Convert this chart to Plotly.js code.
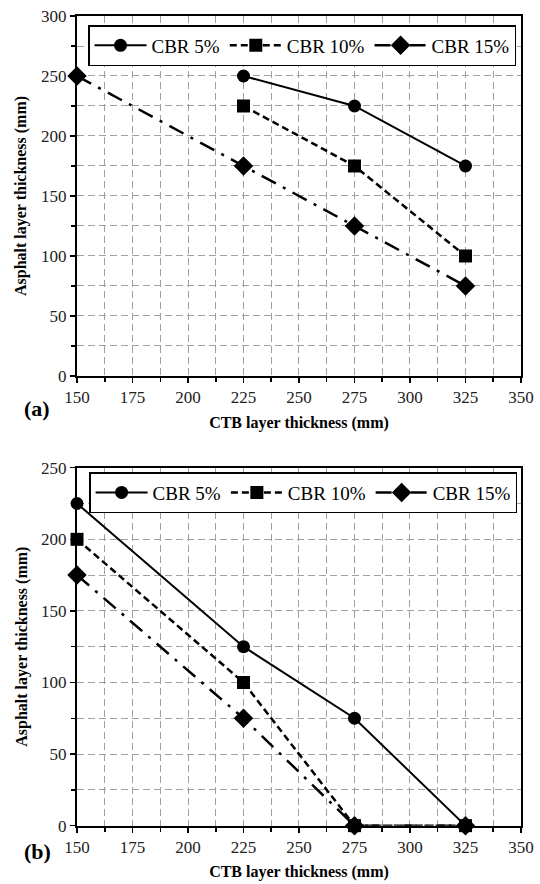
<!DOCTYPE html>
<html><head><meta charset="utf-8">
<script src="https://cdn.plot.ly/plotly-3.0.1.min.js"></script>
<style>body{margin:0;padding:0;background:#fff}#chart{width:540px;height:884px}</style>
</head><body><div id="chart"></div>
<script>
const xA = [225, 275, 325];
const xA15 = [150, 225, 275, 325];
const a5 = [250, 225, 175];
const a10 = [225, 175, 100];
const a15 = [250, 175, 125, 75];
const xB = [150, 225, 275, 325];
const b5 = [225, 125, 75, 0];
const b10 = [200, 100, 0, 0];
const b15 = [175, 75, 0, 0];
const names = ['CBR 5%', 'CBR 10%', 'CBR 15%'];

const F = 'Liberation Serif';
const line5 = {color: '#000', width: 2, dash: 'solid'};
const line10 = {color: '#000', width: 2.5, dash: '7px,4px'};
const line15 = {color: '#000', width: 2.5, dash: '16px,8px,3px,8px'};
const m5 = {symbol: 'circle', size: 13, color: '#000'};
const m10 = {symbol: 'square', size: 13, color: '#000'};
const m15 = {symbol: 'diamond', size: 15, color: '#000'};

const common = {mode: 'lines+markers', cliponaxis: false};
const traces = [
  Object.assign({x: xA, y: a5, name: names[0], legendrank: 1, line: line5, marker: m5, xaxis: 'x', yaxis: 'y', legend: 'legend'}, common),
  Object.assign({x: xA15, y: a15, name: names[2], legendrank: 3, line: line15, marker: m15, xaxis: 'x', yaxis: 'y', legend: 'legend'}, common),
  Object.assign({x: xA, y: a10, name: names[1], legendrank: 2, line: line10, marker: m10, xaxis: 'x', yaxis: 'y', legend: 'legend'}, common),
  Object.assign({x: xB, y: b5, name: names[0], legendrank: 1, line: line5, marker: m5, xaxis: 'x2', yaxis: 'y2', legend: 'legend2'}, common),
  Object.assign({x: xB, y: b15, name: names[2], legendrank: 3, line: line15, marker: m15, xaxis: 'x2', yaxis: 'y2', legend: 'legend2'}, common),
  Object.assign({x: xB, y: b10, name: names[1], legendrank: 2, line: line10, marker: m10, xaxis: 'x2', yaxis: 'y2', legend: 'legend2'}, common)
];

const grid = {showgrid: true, gridcolor: '#a0a0a0', gridwidth: 1, griddash: '7px,4px'};
function xax(anchor) {
  return Object.assign({}, grid, {
    anchor: anchor, domain: [0.1426, 0.9648], range: [150, 350], dtick: 25, tick0: 150,
    ticks: 'outside', ticklen: 5, tickwidth: 1.5, tickcolor: '#000',
    showline: true, linecolor: '#000', linewidth: 2, mirror: true, zeroline: false,
    tickfont: {family: F, size: 17, color: '#222'},
    minor: {dtick: 12.5, tick0: 150, showgrid: true, gridcolor: '#a0a0a0', gridwidth: 1, griddash: '7px,4px', ticks: 'outside', ticklen: 4, tickcolor: '#000'},
    title: {text: '<b>CTB layer thickness (mm)</b>', font: {family: F, size: 16, color: '#000'}, standoff: 10}
  });
}
function yax(anchor, domain, range) {
  return Object.assign({}, grid, {
    anchor: anchor, domain: domain, range: range, dtick: 50, tick0: 0,
    ticks: 'outside', ticklen: 5, tickwidth: 1.5, tickcolor: '#000',
    showline: true, linecolor: '#000', linewidth: 2, mirror: true, zeroline: false,
    tickfont: {family: F, size: 17, color: '#222'},
    minor: {dtick: 25, tick0: 0, showgrid: true, gridcolor: '#a0a0a0', gridwidth: 1, griddash: '7px,4px', ticks: 'outside', ticklen: 4, tickcolor: '#000'},
    title: {text: '<b>Asphalt layer thickness (mm)</b>', font: {family: F, size: 16, color: '#000'}, standoff: 10}
  });
}
const leg = {
  orientation: 'h', xanchor: 'left', yanchor: 'top', bgcolor: '#fff',
  bordercolor: '#000', borderwidth: 1.5, font: {family: F, size: 19, color: '#000'},
  itemwidth: 52, tracegroupgap: 0, traceorder: 'normal'
};

const layout = {
  width: 540, height: 884, margin: {l: 0, r: 0, t: 0, b: 0},
  paper_bgcolor: '#fff', plot_bgcolor: '#fff', showlegend: true,
  xaxis: xax('y'), yaxis: yax('x', [0.5747, 0.9819], [0, 300]),
  xaxis2: xax('y2'), yaxis2: yax('x2', [0.0660, 0.4709], [0, 250]),
  legend: Object.assign({}, leg, {x: 0.163, y: 0.9717}),
  legend2: Object.assign({}, leg, {x: 0.165, y: 0.466}),
  annotations: [
    {text: '<b>(a)</b>', x: 0.04, y: 1 - 408/884, xref: 'paper', yref: 'paper', showarrow: false, font: {family: F, size: 22, color: '#000'}},
    {text: '<b>(b)</b>', x: 0.04, y: 1 - 866/884, xref: 'paper', yref: 'paper', showarrow: false, font: {family: F, size: 22, color: '#000'}}
  ]
};
Plotly.newPlot('chart', traces, layout, {displayModeBar: false, staticPlot: true});
</script></body></html>
